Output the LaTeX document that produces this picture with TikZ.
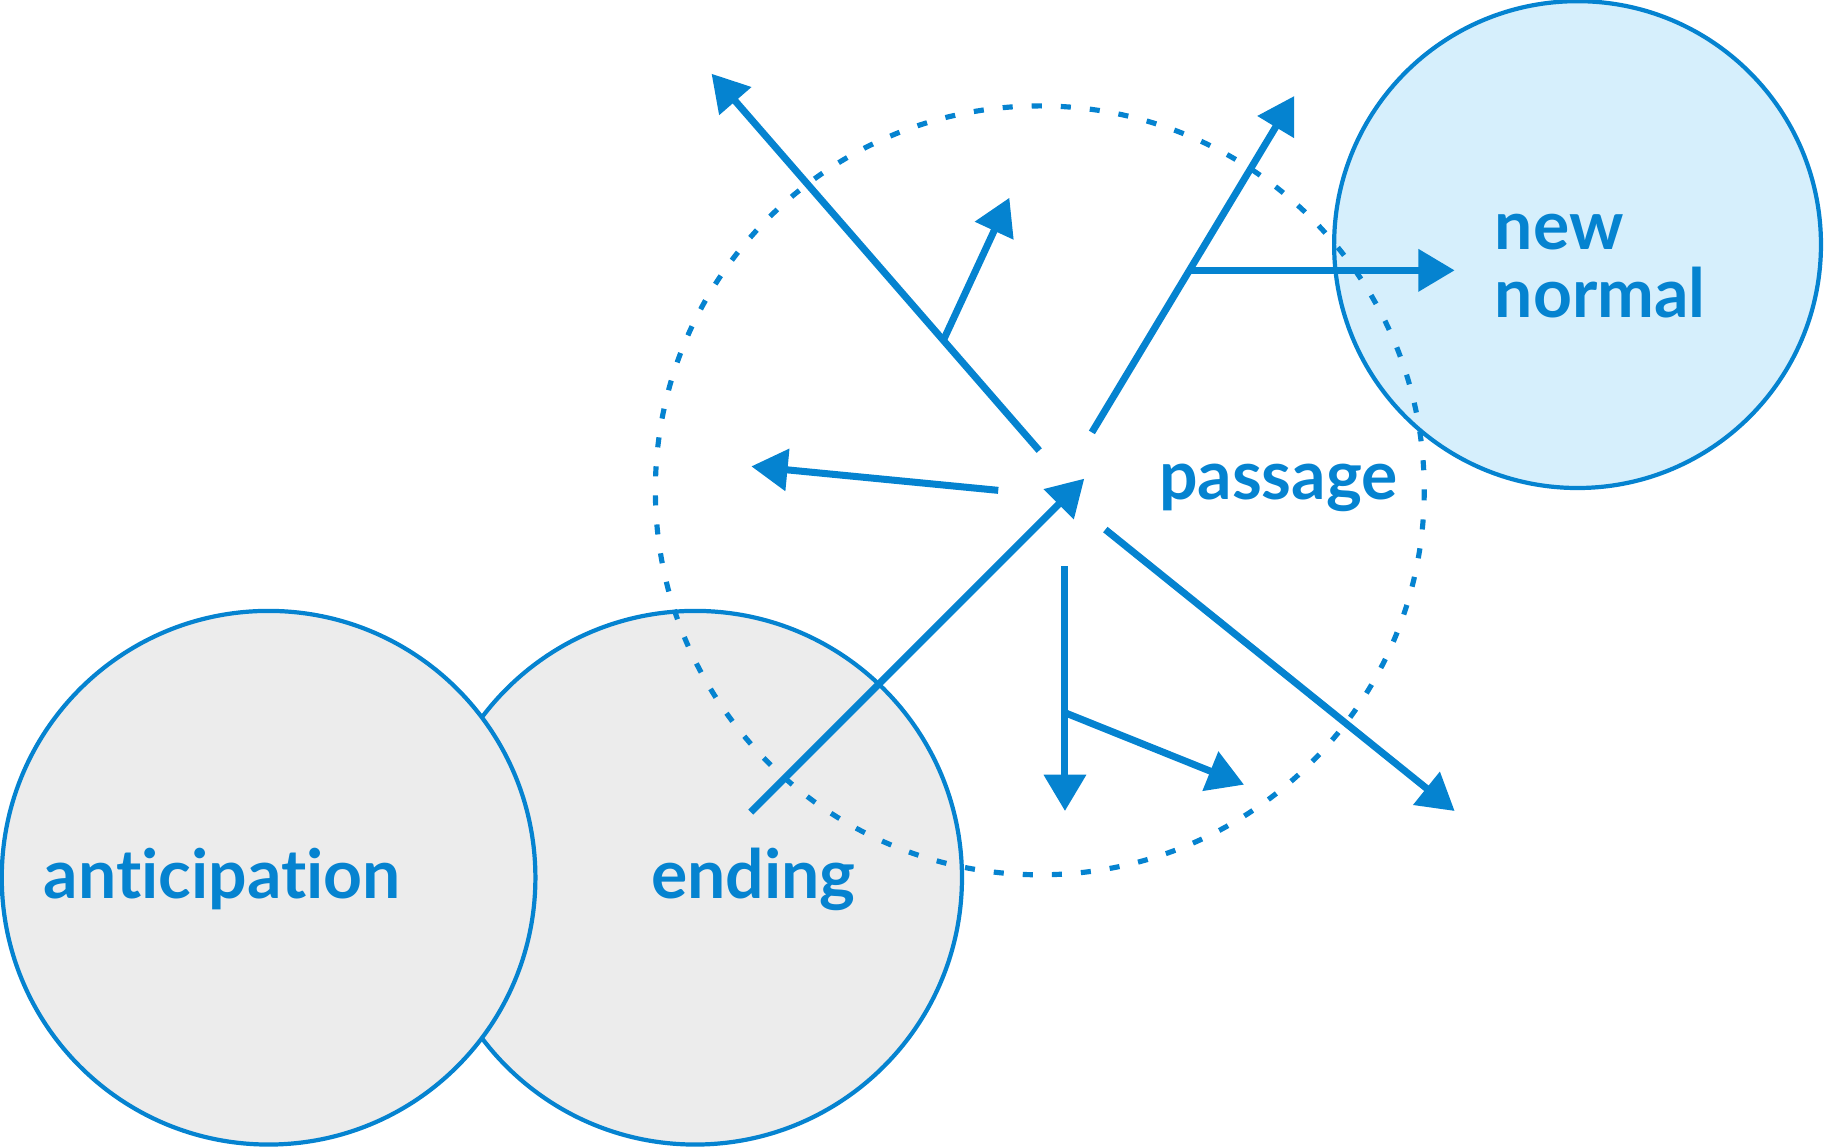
\documentclass[tikz,border=0pt]{standalone}
\usepackage{fontspec}
\setmainfont{Lato}[Ligatures=NoCommon]
\usetikzlibrary{arrows.meta}
\definecolor{passblue}{RGB}{5,131,208}
\definecolor{phasegray}{RGB}{236,236,236}
\definecolor{newblue}{RGB}{214,239,252}
\begin{document}
\begin{tikzpicture}%
	[x=0.5pt, y=-0.5pt,
	phase/.style={draw=passblue, line width=1.8pt, fill=phasegray},
	goal/.style={draw=passblue, line width=1.8pt, fill=newblue},
	orbit/.style={draw=passblue, line width=2.2pt, dash pattern=on 4.3pt off 8.13pt},
	move/.style={draw=passblue, line width=3pt, -{Triangle[length=15.5pt,width=17.5pt]}},
	phasetext/.style={text=passblue, font=\bfseries\fontsize{29}{34}\selectfont, inner sep=0pt}]
%
\useasboundingbox (0,0) rectangle (1568,980);
%
%% Centres of the circles
\coordinate (anticipation centre) at (229.5,750);
\coordinate (ending centre) at (594,750);
\coordinate (normal centre) at (1348,209);
\coordinate (passage centre) at (888.5,419);
%%
%% End points of the arrows
\coordinate (nw start) at (888,385);
\coordinate (nw tip) at (608,63);
\coordinate (nw branch) at (806,291);
\coordinate (nw branch tip) at (862.5,169);
\coordinate (ne start) at (933,369.5);
\coordinate (ne tip) at (1106,82);
\coordinate (ne branch) at (1017,231);
\coordinate (ne branch tip) at (1243,231);
\coordinate (w start) at (853,419);
\coordinate (w tip) at (642,398.5);
\coordinate (sw start) at (641.5,694);
\coordinate (sw tip) at (926.5,409);
\coordinate (se start) at (944.5,452.5);
\coordinate (se tip) at (1243,693);
\coordinate (s start) at (910,484);
\coordinate (s tip) at (910,693);
\coordinate (s branch) at (910,609);
\coordinate (s branch tip) at (1063,670.5);
%%
%% Drawing the circles
\draw[phase] (ending centre) circle (228);
\draw[phase] (anticipation centre) circle (228);
\draw[goal] (normal centre) circle (208);
\draw[orbit] (passage centre) circle (328.5);
%%
%% Drawing the arrows
\draw[move] (nw start) -- (nw tip);
\draw[move] (nw branch) -- (nw branch tip);
\draw[move] (ne start) -- (ne tip);
\draw[move] (ne branch) -- (ne branch tip);
\draw[move] (w start) -- (w tip);
\draw[move] (sw start) -- (sw tip);
\draw[move] (se start) -- (se tip);
\draw[move] (s start) -- (s tip);
\draw[move] (s branch) -- (s branch tip);
%%
%% Labels
\node[phasetext, anchor=base west] (anticipation) at (37,768) {anticipation};
\node[phasetext, anchor=base west] (ending) at (556,768) {ending};
\node[phasetext, anchor=base west] (passage) at (990,427) {passage};
\node[phasetext, anchor=base west] (new) at (1277,213) {new};
\node[phasetext, anchor=base west] (normal) at (1277,271) {normal};
%%
\end{tikzpicture}
\end{document}
